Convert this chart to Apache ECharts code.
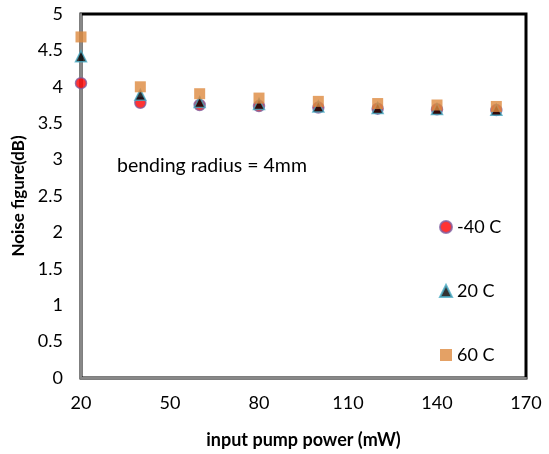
<!DOCTYPE html>
<html>
<head>
<meta charset="utf-8">
<script src="https://cdn.jsdelivr.net/npm/echarts@6/dist/echarts.min.js"></script>
<style>html,body{margin:0;padding:0;background:#fff}#c{width:549px;height:454px}</style>
</head>
<body>
<div id="c"></div>
<script>
const pumpPower = [20, 40, 60, 80, 100, 120, 140, 160];
const nfMinus40 = [4.05, 3.78, 3.75, 3.735, 3.715, 3.70, 3.69, 3.68];
const nf20 = [4.42, 3.89, 3.79, 3.765, 3.73, 3.71, 3.695, 3.685];
const nf60 = [4.685, 4.0, 3.905, 3.845, 3.80, 3.77, 3.75, 3.73];
const xTickLabels = [20, 50, 80, 110, 140, 170];
const seriesNames = ['-40 C', '20 C', '60 C'];

const FONT = 'Lato';
const chart = echarts.init(document.getElementById('c'), null, {renderer: 'canvas'});
const toPairs = ys => pumpPower.map((x, i) => [x, ys[i]]);
chart.setOption({
  animation: false,
  backgroundColor: '#fff',
  grid: {left: 81, right: 23, top: 14, bottom: 64, show: true, borderColor: '#000', borderWidth: 3, backgroundColor: 'transparent'},
  xAxis: {
    type: 'value', min: 20, max: 170,
    name: 'input pump power (mW)', nameLocation: 'middle', nameGap: 53,
    nameTextStyle: {fontFamily: FONT, fontWeight: 'bold', fontSize: 18, color: '#000'},
    axisLine: {show: true, lineStyle: {color: '#888', width: 2}},
    axisTick: {show: false},
    splitLine: {show: false},
    axisLabel: {customValues: xTickLabels, fontFamily: FONT, fontSize: 18, color: '#000', margin: 16}
  },
  yAxis: {
    type: 'value', min: 0, max: 5, interval: 0.5,
    name: 'Noise figure(dB)', nameLocation: 'middle', nameGap: 53, nameRotate: 90,
    nameTextStyle: {fontFamily: FONT, fontWeight: 'bold', fontSize: 17, color: '#000'},
    axisLine: {show: true, lineStyle: {color: '#888', width: 2}},
    axisTick: {show: false},
    splitLine: {show: false},
    axisLabel: {fontFamily: FONT, fontSize: 18, color: '#000', margin: 18}
  },
  legend: {
    orient: 'vertical', left: 434, top: 213, itemGap: 46,
    itemWidth: 12, itemHeight: 12,
    textStyle: {fontFamily: FONT, fontSize: 18, color: '#000'},
    data: seriesNames
  },
  graphic: [{
    type: 'text', left: 117, top: 156,
    style: {text: 'bending radius = 4mm', fontFamily: FONT, fontSize: 19.5, fill: '#000'}
  }],
  series: [
    {name: seriesNames[0], type: 'scatter', symbol: 'circle', symbolSize: 11, data: toPairs(nfMinus40),
     itemStyle: {color: '#FF0000', borderColor: '#7F5FA0', borderWidth: 1.5}, z: 3},
    {name: seriesNames[1], type: 'scatter', symbol: 'triangle', symbolSize: 11, data: toPairs(nf20),
     itemStyle: {color: '#000000', borderColor: '#4BACC6', borderWidth: 1.5}, z: 4},
    {name: seriesNames[2], type: 'scatter', symbol: 'rect', symbolSize: 11, data: toPairs(nf60),
     itemStyle: {color: '#DD8A3E'}, z: 5}
  ]
});
</script>
</body>
</html>
